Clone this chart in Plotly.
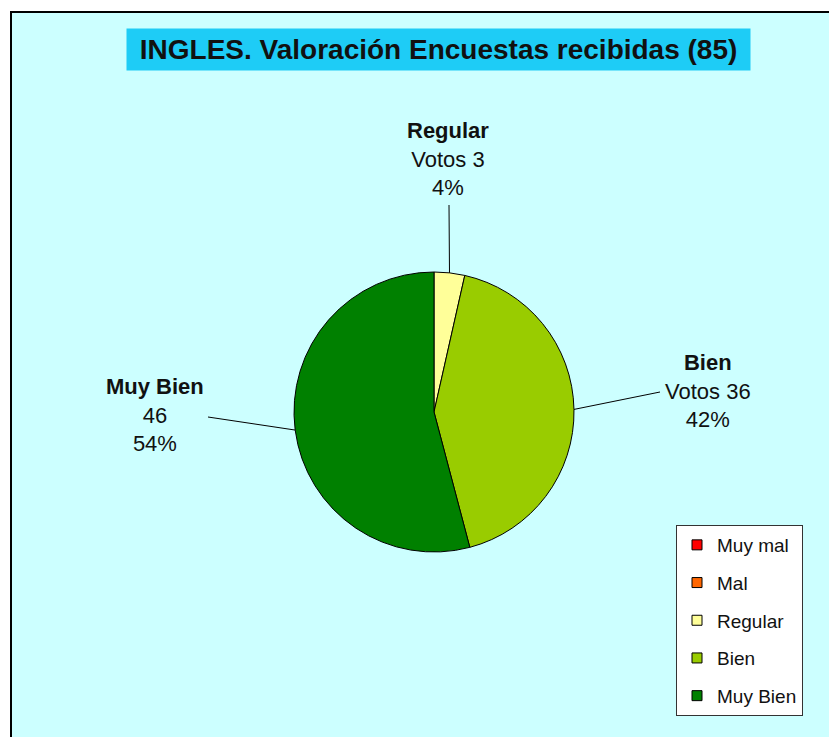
import numpy as np
import plotly.graph_objects as go

# datos de la encuesta
categorias = ["Muy mal", "Mal", "Regular", "Bien", "Muy Bien"]
votos = [0, 0, 3, 36, 46]
colores = ["#FF0000", "#FF6600", "#FFFF99", "#99CC00", "#008000"]
etiquetas = {
    "Regular": "<b>Regular</b><br>Votos 3<br>4%",
    "Bien": "<b>Bien</b><br>Votos 36<br>42%",
    "Muy Bien": "<b>Muy Bien</b><br>46<br>54%",
}
titulo = "INGLES. Valoración Encuestas recibidas (85)"

W, H = 837, 737
OFF = 8                      # margen del body en la pagina html
cx, cy, r = 434, 412, 140    # centro y radio de la tarta (px de pantalla)

# donde va cada etiqueta (px) y donde acaba su linea
pos_etiqueta = {"Regular": (448, 159), "Bien": (708, 391), "Muy Bien": (155, 415)}
fin_linea = {"Regular": (449, 205), "Bien": (660, 392), "Muy Bien": (208, 417)}


def px(x):
    return (x - OFF) / W


def py(y):
    return 1 - (y - OFF) / H


fig = go.Figure()

fig.add_trace(go.Pie(
    labels=categorias, values=votos, sort=False, direction="clockwise", rotation=0,
    marker=dict(colors=colores, line=dict(color="black", width=1)),
    textinfo="none", showlegend=False,
    domain=dict(x=[px(cx - r), px(cx + r)], y=[py(cy + r), py(cy - r)]),
))

# leyenda con trazas vacias para controlar el espaciado
for i, (cat, col) in enumerate(zip(categorias, colores)):
    fig.add_trace(go.Scatter(
        x=[None], y=[None], mode="markers", name=cat, legendgroup=str(i),
        marker=dict(symbol="square", size=10, color=col, line=dict(color="black", width=1)),
    ))

# lineas guia desde el borde de cada porcion
total = sum(votos)
acum = np.cumsum(votos)
shapes = [dict(type="rect", xref="paper", yref="paper", x0=px(11), x1=1.05, y0=-0.05, y1=py(12),
               fillcolor="#CCFFFF", line=dict(color="black", width=2), layer="below")]
annotations = []
for cat, v, c in zip(categorias, votos, acum):
    if v == 0:
        continue
    ang = np.radians((c - v / 2) / total * 360)
    x0 = cx + r * np.sin(ang)
    y0 = cy - r * np.cos(ang)
    x1, y1 = fin_linea[cat]
    shapes.append(dict(type="line", xref="paper", yref="paper", x0=px(x0), y0=py(y0),
                       x1=px(x1), y1=py(y1), line=dict(color="black", width=1)))
    lx, ly = pos_etiqueta[cat]
    annotations.append(dict(x=px(lx), y=py(ly), xref="paper", yref="paper", text=etiquetas[cat],
                            showarrow=False, xanchor="center", yanchor="middle", align="center",
                            font=dict(size=22, color="#111111")))

annotations.append(dict(x=px(438), y=py(50), xref="paper", yref="paper",
                        text="&nbsp;<b>" + titulo + "</b>&nbsp;",
                        showarrow=False, xanchor="center", yanchor="middle", bgcolor="#1ECCF6",
                        borderpad=5, font=dict(size=28, color="#111111")))

fig.update_layout(
    width=W, height=H, margin=dict(l=0, r=0, t=0, b=0),
    paper_bgcolor="white", plot_bgcolor="rgba(0,0,0,0)",
    font=dict(family="Liberation Sans, Arial, sans-serif", color="#111111"),
    xaxis=dict(visible=False), yaxis=dict(visible=False),
    shapes=shapes, annotations=annotations,
    legend=dict(x=px(676), y=py(525), xanchor="left", yanchor="top", bgcolor="white",
                bordercolor="#333333", borderwidth=1, font=dict(size=19),
                tracegroupgap=10),
)

fig.write_html("out.html")
